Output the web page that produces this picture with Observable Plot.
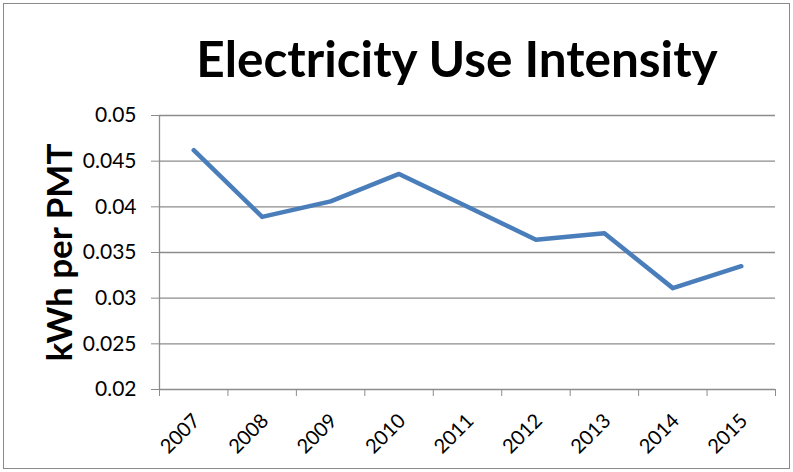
<!DOCTYPE html>
<html>
<head>
<meta charset="utf-8">
<script src="https://cdn.jsdelivr.net/npm/d3@7"></script>
<script src="https://cdn.jsdelivr.net/npm/@observablehq/plot@0.6"></script>
<style>
  html, body { margin: 0; padding: 0; background: #fff; overflow: hidden; }
  #wrap { position: relative; width: 793px; height: 472px; font-family: Lato, "Open Sans", sans-serif; }
  #border { position: absolute; left: 3px; top: 3px; width: 787px; height: 466px; box-sizing: border-box; border: 1px solid #8a8a8a; pointer-events: none; }
  #title { height: 100px; position: relative; }
  #title span { position: absolute; left: 457px; top: 34px; transform: translateX(-50%); white-space: nowrap; font-weight: 700; font-size: 49.5px; line-height: 1; color: #000; }
  #chart svg { display: block; overflow: visible; }
</style>
</head>
<body>
<div id="wrap">
  <div id="title"><span>Electricity Use Intensity</span></div>
  <div id="chart"></div>
  <div id="border"></div>
</div>
<script>
const years = [2007, 2008, 2009, 2010, 2011, 2012, 2013, 2014, 2015];
const values = [0.0462, 0.0389, 0.0406, 0.0436, 0.0400, 0.0364, 0.0371, 0.0311, 0.0335];
const yTicks = [0.02, 0.025, 0.03, 0.035, 0.04, 0.045, 0.05];
const yLabel = "kWh per PMT";

const data = years.map((year, i) => ({year, value: values[i]}));
const xDomain = [years[0] - 0.5, years[years.length - 1] + 0.5];
const boundaries = years.map(y => y - 0.5).concat([years[years.length - 1] + 0.5]);

const chart = Plot.plot({
  width: 793,
  height: 372,
  marginLeft: 159,
  marginRight: 18,
  marginTop: 15,
  marginBottom: 83,
  style: {fontFamily: "Lato, 'Open Sans', sans-serif", fontSize: "20px", background: "white", color: "black"},
  x: {type: "linear", domain: xDomain},
  y: {domain: [yTicks[0], yTicks[yTicks.length - 1]]},
  marks: [
    Plot.ruleY(yTicks, {stroke: "#8c8c8c", strokeWidth: 1.3}),
    Plot.ruleX([xDomain[0]], {stroke: "#8c8c8c", strokeWidth: 1.3}),
    Plot.axisY(yTicks, {tickSize: 8, tickPadding: 15, stroke: "#8c8c8c", fill: "black", tickFormat: d3.format("~g"), label: null, fontSize: 21}),
    Plot.axisX(boundaries, {tickSize: 7, stroke: "#8c8c8c", tickFormat: () => "", label: null}),
    Plot.axisX(years, {tickSize: 0, tickPadding: 28, tickRotate: -45, dx: 3, fill: "black", tickFormat: d => String(d), label: null, fontSize: 20}),
    Plot.text([yLabel], {frameAnchor: "left", textAnchor: "middle", dx: -99, rotate: -90, text: d => d, fontSize: 35, fontWeight: "bold", fill: "black"}),
    Plot.line(data, {x: "year", y: "value", stroke: "#4a7ebb", strokeWidth: 4.5})
  ]
});
document.getElementById("chart").appendChild(chart);
</script>
</body>
</html>
